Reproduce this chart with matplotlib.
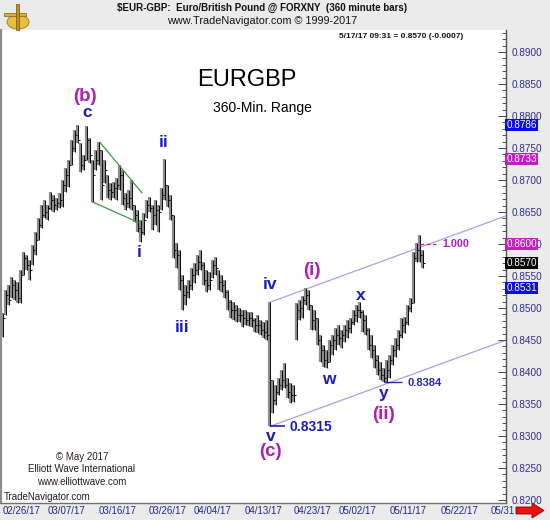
import numpy as np
import matplotlib
matplotlib.use("Agg")
import matplotlib.pyplot as plt
from matplotlib.patches import Polygon, Ellipse, Rectangle
from matplotlib.ticker import MultipleLocator
import matplotlib.transforms as mtransforms

plt.rcParams['font.family'] = ['Liberation Sans', 'DejaVu Sans']

# ---------------- data (360-minute bars, EURGBP) ----------------
high = [
    0.8492, 0.8528, 0.8536, 0.8548, 0.8544, 0.8541, 0.8559, 0.8588, 0.8583, 0.8575,
    0.8598, 0.8619, 0.8641, 0.8661, 0.8669, 0.8661, 0.8681, 0.8677, 0.8672, 0.8680,
    0.8700, 0.8719, 0.8731, 0.8763, 0.8778, 0.8786, 0.8758, 0.8739, 0.8785, 0.8766,
    0.8731, 0.8747, 0.8759, 0.8747, 0.8731, 0.8708, 0.8695, 0.8697, 0.8703, 0.8723,
    0.8716, 0.8680, 0.8684, 0.8700, 0.8661, 0.8653, 0.8637, 0.8648, 0.8669, 0.8673,
    0.8661, 0.8669, 0.8661, 0.8687, 0.8733, 0.8692, 0.8677, 0.8645, 0.8602, 0.8591,
    0.8552, 0.8536, 0.8544, 0.8562, 0.8570, 0.8583, 0.8591, 0.8572, 0.8559, 0.8556,
    0.8575, 0.8580, 0.8559, 0.8552, 0.8544, 0.8528, 0.8513, 0.8509, 0.8505, 0.8500,
    0.8497, 0.8497, 0.8494, 0.8494, 0.8484, 0.8489, 0.8481, 0.8478, 0.8481, 0.8509,
    0.8388, 0.8380, 0.8391, 0.8403, 0.8414, 0.8391, 0.8383, 0.8380, 0.8508, 0.8513,
    0.8519, 0.8531, 0.8528, 0.8505, 0.8497, 0.8484, 0.8458, 0.8442, 0.8434, 0.8450,
    0.8458, 0.8469, 0.8473, 0.8466, 0.8473, 0.8481, 0.8484, 0.8497, 0.8505, 0.8509,
    0.8497, 0.8489, 0.8469, 0.8458, 0.8442, 0.8427, 0.8416, 0.8406, 0.8419, 0.8427,
    0.8442, 0.8453, 0.8466, 0.8484, 0.8486, 0.8505, 0.8516, 0.8588, 0.8602, 0.8614,
    0.8591]

low = [
    0.8455, 0.8489, 0.8505, 0.8516, 0.8513, 0.8508, 0.8508, 0.8552, 0.8559, 0.8544,
    0.8567, 0.8583, 0.8606, 0.8625, 0.8641, 0.8637, 0.8653, 0.8650, 0.8653, 0.8656,
    0.8658, 0.8681, 0.8689, 0.8723, 0.8744, 0.8758, 0.8712, 0.8716, 0.8731, 0.8727,
    0.8666, 0.8716, 0.8723, 0.8669, 0.8695, 0.8672, 0.8669, 0.8672, 0.8669, 0.8684,
    0.8661, 0.8653, 0.8656, 0.8653, 0.8634, 0.8619, 0.8603, 0.8614, 0.8641, 0.8650,
    0.8622, 0.8630, 0.8619, 0.8653, 0.8669, 0.8658, 0.8637, 0.8578, 0.8562, 0.8528,
    0.8497, 0.8505, 0.8516, 0.8528, 0.8539, 0.8552, 0.8559, 0.8536, 0.8525, 0.8528,
    0.8547, 0.8552, 0.8528, 0.8525, 0.8516, 0.8497, 0.8484, 0.8481, 0.8478, 0.8478,
    0.8470, 0.8473, 0.8472, 0.8470, 0.8463, 0.8461, 0.8458, 0.8453, 0.8450, 0.8315,
    0.8336, 0.8348, 0.8364, 0.8372, 0.8375, 0.8359, 0.8352, 0.8353, 0.8450, 0.8481,
    0.8484, 0.8505, 0.8497, 0.8466, 0.8466, 0.8442, 0.8416, 0.8408, 0.8406, 0.8416,
    0.8427, 0.8434, 0.8442, 0.8438, 0.8447, 0.8453, 0.8461, 0.8473, 0.8478, 0.8484,
    0.8463, 0.8458, 0.8434, 0.8422, 0.8406, 0.8395, 0.8388, 0.8384, 0.8384, 0.8391,
    0.8411, 0.8423, 0.8434, 0.8453, 0.8461, 0.8473, 0.8494, 0.8508, 0.8572, 0.8572,
    0.8562]

close = [
    0.8484, 0.8520, 0.8513, 0.8536, 0.8528, 0.8516, 0.8552, 0.8578, 0.8567, 0.8559,
    0.8591, 0.8606, 0.8630, 0.8645, 0.8650, 0.8656, 0.8669, 0.8661, 0.8664, 0.8669,
    0.8692, 0.8708, 0.8723, 0.8750, 0.8770, 0.8763, 0.8723, 0.8731, 0.8763, 0.8739,
    0.8708, 0.8731, 0.8747, 0.8692, 0.8716, 0.8684, 0.8681, 0.8687, 0.8692, 0.8708,
    0.8672, 0.8664, 0.8672, 0.8661, 0.8645, 0.8625, 0.8619, 0.8637, 0.8661, 0.8656,
    0.8645, 0.8653, 0.8650, 0.8677, 0.8692, 0.8669, 0.8645, 0.8591, 0.8583, 0.8544,
    0.8520, 0.8525, 0.8536, 0.8552, 0.8559, 0.8572, 0.8567, 0.8544, 0.8536, 0.8544,
    0.8567, 0.8562, 0.8541, 0.8536, 0.8525, 0.8509, 0.8497, 0.8497, 0.8489, 0.8489,
    0.8484, 0.8481, 0.8484, 0.8481, 0.8473, 0.8473, 0.8466, 0.8463, 0.8458, 0.8388,
    0.8356, 0.8369, 0.8380, 0.8388, 0.8380, 0.8369, 0.8364, 0.8364, 0.8497, 0.8500,
    0.8513, 0.8520, 0.8505, 0.8481, 0.8484, 0.8450, 0.8434, 0.8419, 0.8416, 0.8442,
    0.8450, 0.8458, 0.8453, 0.8458, 0.8466, 0.8469, 0.8478, 0.8489, 0.8497, 0.8494,
    0.8481, 0.8466, 0.8442, 0.8434, 0.8419, 0.8403, 0.8395, 0.8391, 0.8403, 0.8419,
    0.8434, 0.8442, 0.8458, 0.8473, 0.8478, 0.8500, 0.8508, 0.8578, 0.8591, 0.8583,
    0.8570]

date_labels = ['02/26/17', '03/07/17', '03/16/17', '03/26/17', '04/04/17',
               '04/13/17', '04/23/17', '05/02/17', '05/11/17', '05/22/17']
date_ticks = [6.3, 21.3, 38.3, 54.7, 69.7, 86.7, 103.3, 118.3, 135.0, 152.3]

flag_values = [0.8786, 0.8733, 0.8600, 0.8570, 0.8531]
flag_colors = ['#0a0af0', '#c21ec2', '#c21ec2', '#000000', '#0a0af0']

# wave labels: text, bar position, price, colour, size
BLUE = '#1c1cc4'
MAG = '#b01cb0'
wave_labels = [
    ('(b)', 27.3, 0.8830, MAG, 13.5),
    ('c', 28.0, 0.8805, BLUE, 12.5),
    ('ii', 53.7, 0.8758, BLUE, 12.5),
    ('i', 45.3, 0.8586, BLUE, 12.5),
    ('iii', 59.7, 0.8469, BLUE, 12.5),
    ('iv', 89.0, 0.8536, BLUE, 12.5),
    ('v', 89.3, 0.8299, BLUE, 12.5),
    ('(c)', 89.0, 0.8276, MAG, 13.5),
    ('(i)', 103.0, 0.8559, MAG, 13.5),
    ('w', 108.7, 0.8388, BLUE, 12.5),
    ('x', 119.3, 0.8519, BLUE, 12.5),
    ('y', 127.0, 0.8367, BLUE, 12.5),
    ('(ii)', 127.0, 0.8333, MAG, 13.5),
]

# channel (parallel lines from wave iv / v) and wedge lines
chan_x = [89.0, 167.7]
chan_upper = [0.8509, 0.8644]
chan_lower = [0.8315, 0.8450]
wedge_up_x = [32.3, 46.3]
wedge_up_y = [0.8759, 0.8680]
wedge_lo_x = [29.7, 45.0]
wedge_lo_y = [0.8666, 0.8634]

W, H = 550, 520
fig = plt.figure(figsize=(5.5, 5.2), dpi=100, facecolor='#ebebeb')
ax = fig.add_axes([1 / W, 1 - 503 / H, 505 / W, 473 / H])
ax.set_facecolor('white')

x = np.arange(len(high))
ax.vlines(x - 0.2, low, high, color='#8e8e8e', lw=1.6, zorder=2)
ax.vlines(x + 0.1, low, high, color='#111111', lw=0.75, zorder=3)
ax.hlines(close, x + 0.1, x + 0.7, color='#111111', lw=0.75, zorder=3)

ax.set_xlim(-0.67, 167.67)
ax.set_ylim(0.81953, 0.89344)

# channel + wedge
ax.plot(chan_x, chan_upper, color='#a8a0ec', lw=0.9, zorder=1)
ax.plot(chan_x, chan_lower, color='#a8a0ec', lw=0.9, zorder=1)
ax.plot(wedge_up_x, wedge_up_y, color='#3c9a3c', lw=0.9, zorder=4)
ax.plot(wedge_lo_x, wedge_lo_y, color='#3c9a3c', lw=0.9, zorder=4)

# wave labels
for t, px, py, col, sz in wave_labels:
    ax.text(px, py, t, color=col, fontsize=sz, fontweight='bold',
            ha='center', va='center', zorder=6)

# price call-outs
ax.hlines(0.8315, 89.0, 94.0, color=BLUE, lw=1.2, zorder=5)
ax.text(95.6, 0.8314, '0.8315', color=BLUE, fontsize=10, fontweight='bold',
        ha='left', va='center')
ax.hlines(0.8384, 127.0, 133.0, color='#2a2aa8', lw=1.0, zorder=5)
ax.text(134.7, 0.8383, '0.8384', color='#2a2aa8', fontsize=8, fontweight='bold',
        ha='left', va='center')
ax.hlines(0.8600, 139.0, 144.5, color='#b01cb0', lw=0.9, linestyles=(0, (3, 2)), zorder=5)
ax.text(146.3, 0.8600, '1.000', color='#b01cb0', fontsize=7.7, fontweight='bold',
        ha='left', va='center')

# axes styling
for s in ['top']:
    ax.spines[s].set_visible(False)
ax.spines['left'].set_color('#8c8c8c')
ax.spines['left'].set_linewidth(1.6)
ax.spines['bottom'].set_color('#707070')
ax.spines['bottom'].set_linewidth(1.0)
ax.spines['right'].set_color('#505050')
ax.spines['right'].set_linewidth(1.0)

ax.yaxis.tick_right()
ax.yaxis.set_major_locator(MultipleLocator(0.005))
ax.yaxis.set_minor_locator(MultipleLocator(0.001))
ax.yaxis.set_major_formatter(matplotlib.ticker.FormatStrFormatter('%.4f'))
ax.tick_params(axis='y', which='major', direction='in', length=6, width=0.8,
               color='#505050', labelsize=7.2, labelcolor='#2e2e8e', pad=4)
ax.tick_params(axis='y', which='minor', direction='in', length=3, width=0.7,
               color='#505050')
ax.set_xticks(date_ticks)
ax.set_xticklabels(date_labels)
ax.tick_params(axis='x', length=0, labelsize=7, labelcolor='#1e2a8a', pad=2.5)

# right-axis flags
trans = mtransforms.blended_transform_factory(ax.transAxes, ax.transData)
for v, c in zip(flag_values, flag_colors):
    ax.text(1.0 + 0.5 / 505, v, f'{v:.4f}', transform=trans, color='white',
            fontsize=7.2, ha='left', va='center', clip_on=False, zorder=10,
            bbox=dict(boxstyle='square,pad=0.12', fc=c, ec='none'))

# header texts
def ft(px, py, s, **kw):
    fig.text(px / W, 1 - py / H, s, **kw)

ft(262, 8, '$EUR-GBP:  Euro/British Pound @ FORXNY  (360 minute bars)',
   fontsize=7, fontweight='bold', ha='center', va='center', color='#111111')
ft(262, 21, 'www.TradeNavigator.com \u00a9 1999-2017', fontsize=7.8,
   ha='center', va='center', color='#111111')
ft(463, 36, '5/17/17 09:31 = 0.8570 (-0.0007)', fontsize=6, fontweight='bold',
   ha='right', va='center', color='#111111')

ft(247, 80, 'EURGBP', fontsize=17, ha='center', va='center', color='black')
ft(262, 108, '360-Min. Range', fontsize=10, ha='center', va='center', color='black')

ft(82, 457, '\u00a9 May 2017', fontsize=7, ha='center', va='center', color='#2a1a2a')
ft(82, 469, 'Elliott Wave International', fontsize=7, ha='center', va='center', color='#2a1a2a')
ft(82, 482, 'www.elliottwave.com', fontsize=7, ha='center', va='center', color='#2a1a2a')
ft(4, 497, 'TradeNavigator.com', fontsize=7, ha='left', va='center', color='#2a1a2a')

ft(503, 511, '05/31', fontsize=7, ha='center', va='center', color='#1e2a8a')

# red arrow at lower right
arrow_px = [(516, 507), (532, 507), (532, 503), (544, 510.5), (532, 518), (532, 514), (516, 514)]
fig.patches.append(Polygon([(a / W, 1 - b / H) for a, b in arrow_px], closed=True,
                           transform=fig.transFigure, fc='#ee1111', ec='#880000', lw=0.6))

# small logo
fig.patches.append(Ellipse((18 / W, 1 - 22 / H), 22 / W, 14 / H, transform=fig.transFigure,
                           fc='#e8c040', ec='#a07818', lw=0.6))
fig.patches.append(Rectangle((4 / W, 1 - 16 / H), 22 / W, 3 / H, transform=fig.transFigure,
                             fc='#d8b030', ec='#806010', lw=0.5))
fig.patches.append(Rectangle((16 / W, 1 - 30 / H), 3 / W, 26 / H, transform=fig.transFigure,
                             fc='#c09020', ec='#705010', lw=0.5))

fig.savefig('out.png', dpi=100, facecolor=fig.get_facecolor())
